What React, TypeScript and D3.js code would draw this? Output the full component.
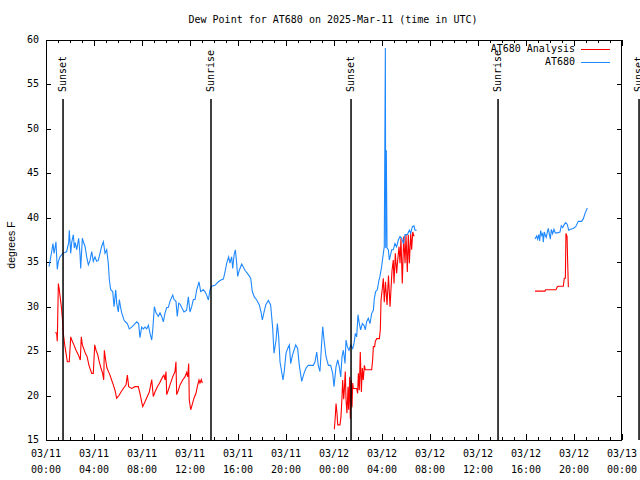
import React from "react";
import * as d3 from "d3";

// ---------- data ----------
const titleText = "Dew Point for AT680 on 2025-Mar-11 (time in UTC)";
const yLabel = "degrees F";
const seriesNames = ["AT680 Analysis", "AT680"];
const seriesColors = ["#ff0000", "#1e88ff"];

// hours since 2025-03-11 00:00 UTC, dew point (F)
const analysisSeries: [number, number][] = [
  [0.78, 27.1], [0.89, 27.0], [0.94, 26.1], [1.03, 32.6], [1.11, 31.9], [1.17, 31.2], [1.28, 30.0], [1.39, 28.3],
  [1.44, 27.0], [1.56, 25.7], [1.67, 24.75], [1.78, 23.8], [1.94, 23.8], [2.06, 26.6], [2.19, 26.1], [2.33, 25.7],
  [2.5, 25.1], [2.69, 24.6], [2.86, 24.0], [2.94, 26.6], [3.03, 25.7], [3.14, 25.3], [3.28, 24.75], [3.42, 24.4],
  [3.58, 23.4], [3.81, 22.5], [3.94, 22.5], [4.06, 25.7], [4.17, 25.1], [4.31, 24.6], [4.44, 23.8], [4.58, 23.1],
  [4.72, 22.5], [4.81, 21.75], [4.86, 25.1], [4.97, 24.0], [5.08, 23.1], [5.19, 22.75], [5.33, 22.3], [5.47, 21.75],
  [5.61, 21.2], [5.75, 20.6], [5.89, 19.7], [6.08, 20.0], [6.25, 20.4], [6.44, 20.8], [6.67, 21.2], [6.78, 22.3],
  [6.89, 21.0], [7.14, 20.8], [7.42, 21.0], [7.69, 21.0], [7.83, 20.25], [7.97, 19.3], [8.06, 18.75], [8.25, 19.3],
  [8.44, 19.9], [8.61, 20.4], [8.81, 21.8], [8.94, 19.9], [9.08, 20.4], [9.28, 21.0], [9.5, 21.5], [9.72, 22.1],
  [9.83, 22.3], [9.92, 21.75], [10.0, 22.7], [10.06, 20.1], [10.19, 20.6], [10.33, 21.2], [10.56, 22.1], [10.75, 22.7],
  [10.83, 23.8], [10.89, 20.1], [11.03, 20.6], [11.17, 21.2], [11.39, 21.75], [11.58, 22.1], [11.72, 22.6], [11.81, 22.1],
  [11.89, 23.6], [11.94, 19.5], [12.06, 18.4], [12.19, 19.0], [12.33, 19.7], [12.5, 20.25], [12.61, 21.0], [12.75, 21.75],
  [12.83, 21.4], [12.94, 21.8], [13.03, 21.4],
  [24.03, 16.2], [24.11, 17.7], [24.17, 19.1], [24.25, 18.0], [24.31, 16.7], [24.5, 16.7], [24.58, 17.6], [24.67, 19.9],
  [24.72, 21.75], [24.81, 19.6], [24.86, 20.6], [24.94, 22.7], [25.0, 19.6], [25.08, 18.0], [25.17, 21.0], [25.22, 18.4],
  [25.31, 22.1], [25.36, 17.4], [25.44, 21.75], [25.5, 18.7], [25.56, 21.4], [25.61, 20.8], [25.89, 20.8], [25.97, 20.25],
  [26.03, 22.5], [26.11, 20.6], [26.19, 24.9], [26.28, 20.4], [26.36, 23.1], [26.44, 21.75], [26.53, 23.4], [26.61, 22.9],
  [27.14, 22.9], [27.22, 24.0], [27.28, 25.5], [27.39, 25.5], [27.44, 26.1], [27.56, 26.4], [27.78, 26.4], [27.86, 27.4],
  [27.92, 30.75], [28.03, 32.1], [28.11, 33.2], [28.19, 30.5], [28.29, 32.8], [28.42, 30.2], [28.54, 33.5], [28.67, 30.0],
  [28.83, 34.0], [28.94, 35.25], [29.0, 32.6], [29.11, 36.0], [29.22, 33.75], [29.31, 35.25], [29.42, 36.75], [29.5, 34.9],
  [29.58, 37.7], [29.69, 32.6], [29.81, 37.9], [29.92, 34.9], [30.0, 38.1], [30.11, 33.9], [30.19, 38.1], [30.28, 34.9],
  [30.39, 38.25], [30.47, 36.4], [30.56, 38.4], [30.67, 37.9],
  [40.75, 31.75], [41.58, 31.75], [41.64, 31.9], [42.5, 31.9], [42.61, 32.25], [42.69, 32.3], [43.11, 32.3], [43.19, 33.2],
  [43.28, 33.2], [43.33, 38.25], [43.42, 37.9], [43.47, 35.1], [43.53, 32.2],
];

const observedSeries: [number, number][] = [
  [0.25, 34.5], [0.33, 35.1], [0.5, 36.4], [0.58, 37.1], [0.67, 36.0], [0.75, 36.6], [0.83, 37.3], [0.94, 34.2],
  [1.03, 35.1], [1.17, 35.6], [1.39, 36.0], [1.58, 36.1], [1.72, 36.2], [1.89, 37.2], [1.94, 38.6], [2.06, 36.0],
  [2.14, 37.2], [2.28, 38.1], [2.36, 36.6], [2.44, 37.2], [2.56, 36.4], [2.72, 37.7], [2.83, 36.0], [2.89, 34.3],
  [3.03, 37.7], [3.11, 37.3], [3.25, 36.8], [3.39, 35.6], [3.53, 34.7], [3.67, 35.2], [3.81, 36.2], [3.94, 35.1],
  [4.08, 35.6], [4.22, 35.1], [4.36, 35.2], [4.5, 36.0], [4.64, 36.8], [4.78, 37.3], [4.92, 36.0], [5.06, 36.4],
  [5.19, 34.9], [5.28, 33.0], [5.39, 31.9], [5.56, 31.7], [5.67, 30.0], [5.81, 31.9], [5.89, 30.4], [6.03, 29.4],
  [6.11, 30.8], [6.22, 29.9], [6.31, 29.3], [6.5, 28.5], [6.61, 28.3], [6.78, 28.1], [6.94, 27.5], [7.14, 27.7],
  [7.42, 28.1], [7.56, 28.3], [7.72, 28.1], [7.83, 26.5], [7.97, 27.7], [8.11, 27.5], [8.25, 27.7], [8.39, 27.5],
  [8.53, 27.9], [8.67, 27.0], [8.81, 26.25], [8.89, 27.3], [9.03, 30.0], [9.17, 29.3], [9.36, 28.9], [9.5, 29.3],
  [9.64, 28.9], [9.78, 28.3], [9.92, 29.3], [10.06, 29.9], [10.19, 29.9], [10.33, 30.6], [10.56, 31.3], [10.67, 30.8],
  [10.83, 30.6], [10.94, 28.9], [11.06, 30.4], [11.17, 30.3], [11.31, 29.9], [11.5, 29.4], [11.72, 29.6], [11.86, 31.1],
  [12.0, 29.4], [12.14, 30.0], [12.28, 30.8], [12.42, 30.8], [12.56, 31.9], [12.75, 32.8], [12.89, 31.7], [13.11, 31.9],
  [13.25, 31.7], [13.39, 31.3], [13.53, 30.75], [13.67, 31.9], [13.81, 32.3], [14.08, 32.4], [14.36, 32.8], [14.58, 33.0],
  [14.78, 33.1], [14.92, 33.9], [15.06, 34.9], [15.22, 35.6], [15.33, 34.9], [15.47, 35.6], [15.56, 34.3], [15.67, 35.8],
  [15.78, 36.4], [15.89, 34.9], [15.97, 33.4], [16.11, 34.1], [16.31, 34.8], [16.58, 34.1], [16.86, 33.6], [17.06, 33.2],
  [17.19, 31.7], [17.36, 31.1], [17.56, 30.75], [17.78, 30.2], [17.92, 29.4], [18.03, 28.5], [18.17, 29.4], [18.31, 30.2],
  [18.53, 30.7], [18.72, 30.2], [18.89, 27.6], [19.0, 24.75], [19.17, 26.25], [19.28, 28.1], [19.39, 26.6], [19.5, 23.8],
  [19.61, 22.9], [19.75, 21.75], [19.86, 22.8], [20.0, 24.75], [20.14, 25.3], [20.28, 25.7], [20.39, 23.6], [20.53, 24.5],
  [20.67, 25.1], [20.81, 25.7], [20.97, 25.3], [21.11, 23.4], [21.31, 21.6], [21.5, 22.5], [21.67, 23.1], [21.86, 23.4],
  [22.28, 23.4], [22.42, 23.8], [22.56, 24.9], [22.69, 23.4], [22.83, 22.7], [22.97, 25.9], [23.06, 27.75], [23.17, 26.25],
  [23.33, 24.4], [23.53, 23.4], [23.72, 23.4], [23.89, 22.5], [24.0, 21.0], [24.17, 23.25], [24.31, 24.0], [24.44, 23.25],
  [24.56, 22.1], [24.67, 24.4], [24.78, 25.1], [24.92, 23.6], [25.0, 26.25], [25.11, 25.5], [25.25, 25.1], [25.39, 25.7],
  [25.56, 25.3], [25.67, 25.9], [25.78, 27.0], [25.89, 26.6], [26.0, 29.1], [26.11, 28.1], [26.22, 27.4], [26.36, 28.1],
  [26.5, 27.9], [26.61, 27.4], [26.72, 28.3], [26.86, 28.7], [27.0, 28.1], [27.14, 29.25], [27.28, 29.6], [27.36, 30.9],
  [27.47, 31.7], [27.61, 31.9], [27.75, 33.0], [27.83, 33.4], [27.97, 34.5], [28.11, 36.0], [28.19, 36.75], [28.28, 59.1],
  [28.31, 36.6], [28.36, 47.6], [28.42, 36.6], [28.53, 36.4], [28.61, 35.25], [28.81, 36.4], [28.94, 36.4], [29.08, 37.1],
  [29.22, 36.75], [29.36, 37.5], [29.5, 37.9], [29.64, 37.7], [29.78, 37.1], [29.92, 38.1], [30.11, 38.1], [30.28, 38.6],
  [30.39, 38.25], [30.53, 39.0], [30.67, 39.1], [30.75, 38.6], [30.89, 38.6],
  [40.75, 37.6], [40.89, 37.95], [40.97, 37.6], [41.06, 38.1], [41.14, 37.4], [41.22, 38.55], [41.31, 38.0], [41.39, 38.2],
  [41.44, 37.25], [41.53, 38.4], [41.61, 38.0], [41.69, 37.8], [41.78, 38.4], [41.86, 38.8], [41.94, 38.2], [42.03, 37.6],
  [42.11, 38.7], [42.22, 38.2], [42.33, 38.7], [42.44, 38.3], [42.61, 38.3], [42.83, 38.4], [42.94, 39.1], [43.06, 38.9],
  [43.17, 39.2], [43.31, 39.45], [43.44, 39.25], [43.56, 38.6], [43.72, 38.7], [43.94, 38.8], [44.14, 39.0], [44.36, 39.6],
  [44.64, 39.6], [44.78, 39.9], [44.92, 40.5], [45.11, 41.1],
];

// sunrise / sunset events (hours since start)
const eventHours = [1.42, 13.75, 25.42, 37.67, 49.42];
const eventNames = ["Sunset", "Sunrise", "Sunset", "Sunrise", "Sunset"];

const yTicks = [15, 20, 25, 30, 35, 40, 45, 50, 55, 60];
const xTickHours = [0, 4, 8, 12, 16, 20, 24, 28, 32, 36, 40, 44, 48];
const xTickDates = ["03/11", "03/11", "03/11", "03/11", "03/11", "03/11", "03/12", "03/12", "03/12", "03/12", "03/12", "03/12", "03/13"];
const xTickTimes = ["00:00", "04:00", "08:00", "12:00", "16:00", "20:00", "00:00", "04:00", "08:00", "12:00", "16:00", "20:00", "00:00"];

// ---------- layout ----------
const W = 640, H = 480;
const L = 46, R = 622, T = 40, B = 440;
const START = Date.UTC(2025, 2, 11);
const toDate = (h: number) => new Date(START + h * 3600000);
const MONO = "'DejaVu Sans Mono', monospace";

function splitSegments(data: [number, number][], gap = 2) {
  const segs: [number, number][][] = [];
  let cur: [number, number][] = [];
  data.forEach((d, i) => {
    if (i > 0 && d[0] - data[i - 1][0] > gap) {
      segs.push(cur);
      cur = [];
    }
    cur.push(d);
  });
  if (cur.length) segs.push(cur);
  return segs;
}

export default function App() {
  const x = d3.scaleUtc().domain([toDate(0), toDate(48)]).range([L, R]);
  const y = d3.scaleLinear().domain([15, 60]).range([B, T]);
  const line = d3
    .line<[number, number]>()
    .x((d) => x(toDate(d[0])))
    .y((d) => y(d[1]));

  const minorHours = d3.range(0, 49, 1);
  const series = [analysisSeries, observedSeries];

  return (
    <svg
      width={W}
      height={H}
      style={{ position: "absolute", left: 0, top: 0, background: "#fff" }}
      fontFamily={MONO}
      fontSize={10}
    >
      <rect x={0} y={0} width={W} height={H} fill="#fff" />
      <text x={333} y={20} textAnchor="middle" dominantBaseline="middle">
        {titleText}
      </text>

      {/* x ticks (top and bottom) */}
      {minorHours.map((h) => {
        const major = h % 4 === 0;
        const len = major ? 6 : 3;
        const xx = Math.round(x(toDate(h))) + 0.5;
        return (
          <g key={"xt" + h} stroke="#000" strokeWidth={1}>
            <line x1={xx} x2={xx} y1={B} y2={B - len} />
            <line x1={xx} x2={xx} y1={T} y2={T + len} />
          </g>
        );
      })}
      {xTickHours.map((h, i) => {
        const xx = x(toDate(h));
        return (
          <g key={"xl" + i}>
            <text x={xx} y={454} textAnchor="middle" dominantBaseline="middle">
              {xTickDates[i]}
            </text>
            <text x={xx} y={470} textAnchor="middle" dominantBaseline="middle">
              {xTickTimes[i]}
            </text>
          </g>
        );
      })}

      {/* y ticks */}
      {yTicks.map((v) => {
        const yy = Math.round(y(v)) + 0.5;
        return (
          <g key={"yt" + v}>
            <line x1={L} x2={L + 5} y1={yy} y2={yy} stroke="#000" />
            <line x1={R - 5} x2={R} y1={yy} y2={yy} stroke="#000" />
            <text x={39} y={y(v)} textAnchor="end" dominantBaseline="middle">
              {v}
            </text>
          </g>
        );
      })}
      <text
        transform={`translate(12,245) rotate(-90)`}
        textAnchor="middle"
        dominantBaseline="middle"
        fontFamily="'Liberation Sans', Arial, sans-serif"
        fontSize={10.5}
      >
        {yLabel}
      </text>

      {/* data */}
      {series.map((s, si) =>
        splitSegments(s).map((seg, k) => (
          <path
            key={"s" + si + "_" + k}
            d={line(seg) || ""}
            fill="none"
            stroke={seriesColors[si]}
            strokeWidth={1.1}
          />
        ))
      )}

      {/* sunrise / sunset */}
      {eventHours.map((h, i) => {
        const xx = x(toDate(h));
        return (
          <g key={"ev" + i}>
            <line x1={xx} x2={xx} y1={99} y2={B} stroke="#000" strokeWidth={1.5} />
            <text
              transform={`translate(${xx},92) rotate(-90)`}
              textAnchor="start"
              dominantBaseline="middle"
            >
              {eventNames[i]}
            </text>
          </g>
        );
      })}

      {/* border */}
      <rect x={L + 0.5} y={T + 0.5} width={R - L - 1} height={B - T} fill="none" stroke="#000" strokeWidth={1} />

      {/* legend */}
      {seriesNames.map((n, i) => (
        <g key={"lg" + i}>
          <text x={575} y={49 + i * 13} textAnchor="end" dominantBaseline="middle">
            {n}
          </text>
          <line x1={581} x2={610} y1={49.5 + i * 13} y2={49.5 + i * 13} stroke={seriesColors[i]} strokeWidth={1} />
        </g>
      ))}
    </svg>
  );
}
